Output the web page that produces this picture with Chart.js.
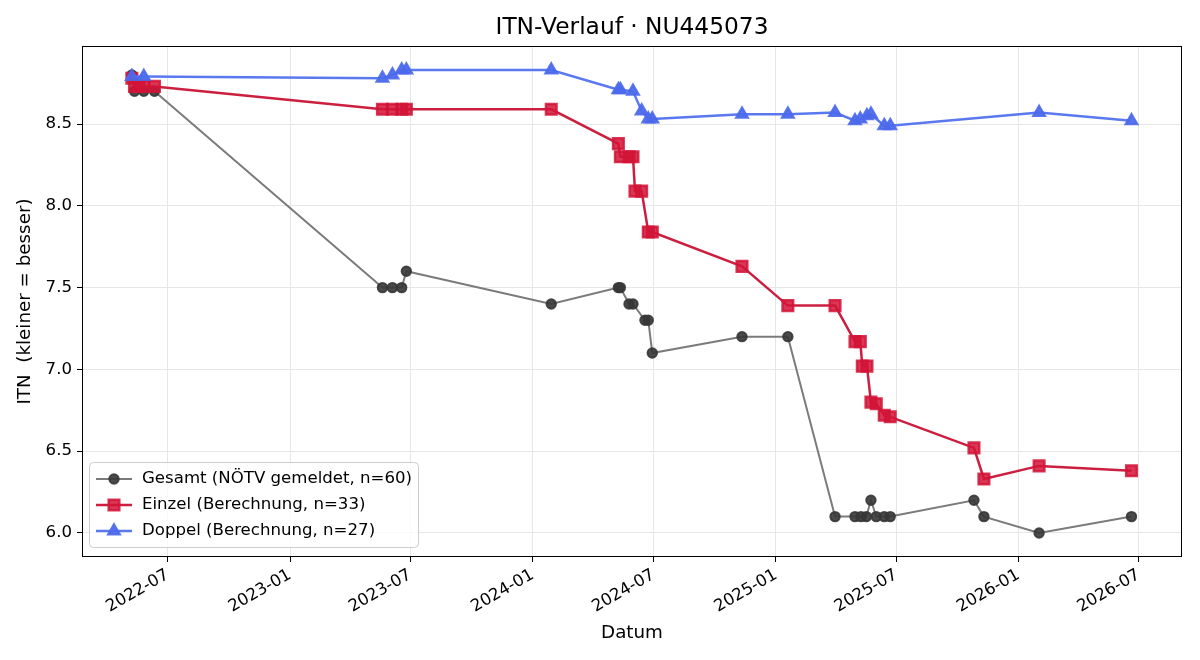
<!DOCTYPE html>
<html>
<head>
<meta charset="utf-8">
<script src="https://cdn.jsdelivr.net/npm/chart.js@4/dist/chart.umd.min.js"></script>
<style>
  html, body { margin: 0; padding: 0; background: #fff; }
  canvas { display: block; }
</style>
</head>
<body>
<canvas id="itn-chart" width="1200" height="660"></canvas>
<script>
// Daten
const gesamtDates = ['2022-05-08', '2022-05-12', '2022-05-26', '2022-06-11', '2023-05-20', '2023-06-04',
  '2023-06-18', '2023-06-25', '2024-01-29', '2024-05-09', '2024-05-12', '2024-05-25', '2024-05-31',
  '2024-06-18', '2024-06-23', '2024-06-29', '2024-11-11', '2025-01-19', '2025-03-31', '2025-04-30',
  '2025-05-09', '2025-05-17', '2025-05-24', '2025-06-01', '2025-06-13', '2025-06-22', '2025-10-26',
  '2025-11-10', '2026-02-01', '2026-06-20'];
const gesamtValues = [8.8, 8.7, 8.7, 8.7, 7.5, 7.5, 7.5, 7.6, 7.4, 7.5, 7.5, 7.4, 7.4, 7.3, 7.3, 7.1,
  7.2, 7.2, 6.1, 6.1, 6.1, 6.1, 6.2, 6.1, 6.1, 6.1, 6.2, 6.1, 6.0, 6.1];

const einzelDates = ['2022-05-08', '2022-05-12', '2022-05-19', '2022-05-26', '2022-06-11', '2023-05-20',
  '2023-06-04', '2023-06-18', '2023-06-25', '2024-01-29', '2024-05-09', '2024-05-12', '2024-05-25',
  '2024-05-31', '2024-06-03', '2024-06-13', '2024-06-23', '2024-06-29', '2024-11-11', '2025-01-19',
  '2025-03-31', '2025-04-30', '2025-05-08', '2025-05-11', '2025-05-18', '2025-05-24', '2025-06-01',
  '2025-06-13', '2025-06-22', '2025-10-26', '2025-11-10', '2026-02-01', '2026-06-20'];
const einzelValues = [8.78, 8.73, 8.73, 8.73, 8.73, 8.59, 8.59, 8.59, 8.59, 8.59, 8.38, 8.30, 8.30,
  8.30, 8.09, 8.09, 7.84, 7.84, 7.63, 7.39, 7.39, 7.17, 7.17, 7.02, 7.02, 6.80, 6.79, 6.72, 6.71,
  6.52, 6.33, 6.41, 6.38];

const doppelDates = ['2022-05-08', '2022-05-26', '2023-05-20', '2023-06-04', '2023-06-18', '2023-06-25',
  '2024-01-29', '2024-05-09', '2024-05-12', '2024-05-31', '2024-06-13', '2024-06-23', '2024-06-29',
  '2024-11-11', '2025-01-19', '2025-03-31', '2025-04-30', '2025-05-08', '2025-05-18', '2025-05-24',
  '2025-06-13', '2025-06-22', '2026-02-01', '2026-06-20'];
const doppelValues = [8.79, 8.79, 8.78, 8.80, 8.83, 8.83, 8.83, 8.71, 8.71, 8.70, 8.58, 8.53, 8.53,
  8.56, 8.56, 8.57, 8.52, 8.53, 8.55, 8.56, 8.49, 8.49, 8.57, 8.52];

const xTickLabels = ['2022-07', '2023-01', '2023-07', '2024-01', '2024-07', '2025-01', '2025-07', '2026-01', '2026-07'];
const yTickValues = [6.0, 6.5, 7.0, 7.5, 8.0, 8.5];

const FONT = '"DejaVu Sans", sans-serif';

function toTime(d) {
    return Date.parse(d + 'T00:00:00Z');
}

function toPoints(dates, values) {
    return dates.map((d, i) => ({ x: toTime(d), y: values[i] }));
}

// Rahmen, Titel, Achsentitel und Legende im Stil von matplotlib
const extras = {
    id: 'extras',
    afterDraw(chart) {
        const ctx = chart.ctx;
        const a = chart.chartArea;
        ctx.save();
        ctx.strokeStyle = '#000';
        ctx.lineWidth = 1;
        ctx.strokeRect(Math.round(a.left) + 0.5, Math.round(a.top) + 0.5,
            Math.round(a.right - a.left) - 1, Math.round(a.bottom - a.top) - 1);

        ctx.fillStyle = '#000';
        ctx.textAlign = 'center';
        ctx.textBaseline = 'middle';
        ctx.font = '23.3px ' + FONT;
        ctx.fillText('ITN-Verlauf · NU445073', (a.left + a.right) / 2, 28);

        ctx.font = '18.3px ' + FONT;
        ctx.fillText('Datum', (a.left + a.right) / 2, 633);
        ctx.save();
        ctx.translate(25, (a.top + a.bottom) / 2);
        ctx.rotate(-Math.PI / 2);
        ctx.fillText('ITN  (kleiner = besser)', 0, 0);
        ctx.restore();

        // Legende unten links
        const lx = 89, ly = 462, lw = 329, lh = 85;
        ctx.beginPath();
        ctx.roundRect(lx + 0.5, ly + 0.5, lw, lh, 4);
        ctx.fillStyle = 'rgba(255,255,255,0.8)';
        ctx.fill();
        ctx.strokeStyle = '#cccccc';
        ctx.stroke();

        chart.data.datasets.forEach((ds, i) => {
            const y = ly + 17 + i * 26;
            ctx.strokeStyle = ds.borderColor;
            ctx.lineWidth = ds.borderWidth;
            ctx.beginPath();
            ctx.moveTo(96, y);
            ctx.lineTo(132, y);
            ctx.stroke();
            ctx.fillStyle = ds.pointBackgroundColor;
            ctx.strokeStyle = ds.pointBorderColor;
            Chart.helpers.drawPoint(ctx, {
                pointStyle: ds.pointStyle, radius: ds.pointRadius, rotation: 0, borderWidth: 1
            }, 114, y);
            ctx.fillStyle = '#000';
            ctx.textAlign = 'left';
            ctx.font = '16.6px ' + FONT;
            ctx.fillText(ds.label, 142, y);
        });
        ctx.restore();
    }
};

const ctx = document.getElementById('itn-chart').getContext('2d');

const itnChart = new Chart(ctx, {
    type: 'line',
    data: {
        datasets: [{
            label: 'Gesamt (NÖTV gemeldet, n=60)',
            data: toPoints(gesamtDates, gesamtValues),
            borderColor: '#7b7b7b',
            borderWidth: 2,
            pointStyle: 'circle',
            pointRadius: 4.7,
            pointBackgroundColor: 'rgba(55,55,55,0.9)',
            pointBorderColor: 'rgba(55,55,55,0.9)',
            order: 3,
        }, {
            label: 'Einzel (Berechnung, n=33)',
            data: toPoints(einzelDates, einzelValues),
            borderColor: '#cc1f40',
            borderWidth: 2.5,
            pointStyle: 'rect',
            pointRadius: 7.5,
            pointBackgroundColor: 'rgba(210,20,55,0.85)',
            pointBorderColor: 'rgba(210,20,55,0.85)',
            order: 2,
        }, {
            label: 'Doppel (Berechnung, n=27)',
            data: toPoints(doppelDates, doppelValues),
            borderColor: '#5a78ef',
            borderWidth: 2.5,
            pointStyle: 'triangle',
            pointRadius: 6.5,
            pointBackgroundColor: 'rgba(75,105,235,0.9)',
            pointBorderColor: 'rgba(75,105,235,0.9)',
            order: 1,
        }]
    },
    options: {
        responsive: false,
        animation: false,
        layout: { padding: { top: 46, right: 18, left: 0, bottom: 0 } },
        plugins: {
            legend: { display: false },
            title: { display: false },
            tooltip: { enabled: false }
        },
        elements: {
            line: { tension: 0, fill: false },
            point: { borderWidth: 1 }
        },
        scales: {
            x: {
                type: 'linear',
                min: toTime('2022-02-22'),
                max: toTime('2026-09-04'),
                afterBuildTicks: s => { s.ticks = xTickLabels.map(l => ({ value: toTime(l + '-01') })); },
                afterFit: s => { s.height = 103; },
                ticks: {
                    autoSkip: false,
                    minRotation: 30,
                    maxRotation: 30,
                    color: '#000',
                    padding: 3,
                    font: { family: FONT, size: 16.6 },
                    callback: v => new Date(v).toISOString().slice(0, 7)
                },
                grid: { color: '#e6e6e6', tickColor: '#000', tickLength: 5 },
                border: { display: false }
            },
            y: {
                min: 5.853,
                max: 8.977,
                afterBuildTicks: s => { s.ticks = yTickValues.map(v => ({ value: v })); },
                afterFit: s => { s.width = 82; },
                ticks: {
                    color: '#000',
                    padding: 5,
                    font: { family: FONT, size: 16.6 },
                    callback: v => v.toFixed(1)
                },
                grid: { color: '#e6e6e6', tickColor: '#000', tickLength: 5 },
                border: { display: false }
            }
        }
    },
    plugins: [extras]
});
</script>
</body>
</html>
